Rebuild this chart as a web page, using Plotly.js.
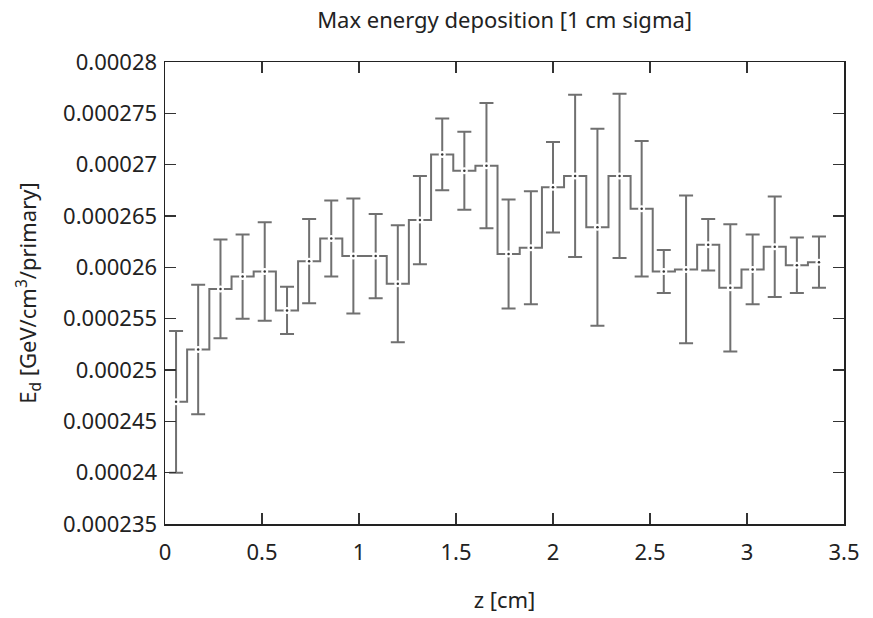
<!DOCTYPE html>
<html>
<head>
<meta charset="utf-8">
<script src="https://cdn.plot.ly/plotly-3.0.1.min.js"></script>
<style>html,body{margin:0;padding:0;background:#fff;}#chart{width:873px;height:618px;}</style>
</head>
<body>
<div id="chart"></div>
<script>
// bin centres (cm)
const zCenters = [0.057, 0.171, 0.286, 0.400, 0.514, 0.629, 0.743, 0.857, 0.971, 1.086,
                  1.200, 1.314, 1.429, 1.543, 1.657, 1.771, 1.886, 2.000, 2.114, 2.229,
                  2.343, 2.457, 2.571, 2.686, 2.800, 2.914, 3.029, 3.143, 3.257, 3.371];
// energy deposition values (GeV/cm^3/primary)
const edValues = [0.0002469, 0.0002520, 0.0002579, 0.0002591, 0.0002596, 0.0002558, 0.0002606, 0.0002628, 0.0002611, 0.0002611,
                  0.0002584, 0.0002646, 0.0002710, 0.0002694, 0.0002699, 0.0002613, 0.0002619, 0.0002678, 0.0002689, 0.0002639,
                  0.0002689, 0.0002657, 0.0002596, 0.0002598, 0.0002622, 0.0002580, 0.0002598, 0.0002620, 0.0002602, 0.0002605];
// symmetric errors
const edErrors = [0.0000069, 0.0000063, 0.0000048, 0.0000041, 0.0000048, 0.0000023, 0.0000041, 0.0000037, 0.0000056, 0.0000041,
                  0.0000057, 0.0000043, 0.0000035, 0.0000038, 0.0000061, 0.0000053, 0.0000055, 0.0000044, 0.0000079, 0.0000096,
                  0.0000080, 0.0000066, 0.0000021, 0.0000072, 0.0000025, 0.0000062, 0.0000034, 0.0000049, 0.0000027, 0.0000025];
const yTickVals = [0.000235, 0.00024, 0.000245, 0.00025, 0.000255, 0.00026, 0.000265, 0.00027, 0.000275, 0.00028];
const yTickText = ["0.000235", "0.00024", "0.000245", "0.00025", "0.000255", "0.00026", "0.000265", "0.00027", "0.000275", "0.00028"];
const xTickVals = [0, 0.5, 1, 1.5, 2, 2.5, 3, 3.5];
const xTickText = ["0", "0.5", "1", "1.5", "2", "2.5", "3", "3.5"];

const lineCol = '#707070';
const font = 'Noto Sans, Open Sans, sans-serif';
const fs = 22;

const traces = [
  {
    x: zCenters, y: edValues, type: 'scatter', mode: 'lines',
    line: {shape: 'hvh', color: lineCol, width: 2},
    error_y: {type: 'data', array: edErrors, visible: true, color: lineCol, thickness: 2, width: 7},
    hoverinfo: 'skip', showlegend: false
  },
  {
    x: zCenters, y: edValues, type: 'scatter', mode: 'markers',
    marker: {symbol: 'circle', size: 7, color: '#ffffff', line: {width: 0}},
    hoverinfo: 'skip', showlegend: false
  },
  {
    x: zCenters, y: edValues, type: 'scatter', mode: 'markers',
    marker: {symbol: 'circle', size: 2.5, color: '#333333', line: {width: 0}},
    showlegend: false
  }
];

const layout = {
  width: 873, height: 618,
  paper_bgcolor: '#fff', plot_bgcolor: '#fff',
  margin: {l: 165, r: 29, t: 62, b: 94, pad: 0},
  font: {family: font, size: fs, color: '#222'},
  title: {text: 'Max energy deposition [1 cm sigma]', x: 0.578, xanchor: 'center', y: 0.967, yanchor: 'middle',
          font: {family: font, size: fs, color: '#222'}},
  xaxis: {
    range: [0, 3.5], tickmode: 'array', tickvals: xTickVals, ticktext: xTickText,
    ticks: 'inside', ticklen: 11, tickwidth: 1.5, tickcolor: '#333',
    showline: true, linecolor: '#222', linewidth: 1.5, mirror: 'ticks',
    showgrid: false, zeroline: false, ticklabelstandoff: 8,
    tickfont: {family: font, size: fs, color: '#222'},
    title: {text: 'z [cm]', standoff: 27, font: {family: font, size: fs, color: '#222'}}
  },
  yaxis: {
    range: [0.000235, 0.00028], tickmode: 'array', tickvals: yTickVals, ticktext: yTickText,
    ticks: 'inside', ticklen: 11, tickwidth: 1.5, tickcolor: '#333',
    showline: true, linecolor: '#222', linewidth: 1.5, mirror: 'ticks',
    showgrid: false, zeroline: false, ticklabelstandoff: 2,
    tickfont: {family: font, size: fs, color: '#222'},
    title: {text: 'E<sub>d</sub> [GeV/cm<sup>3</sup>/primary]', standoff: 20, font: {family: font, size: fs, color: '#222'}}
  }
};

Plotly.newPlot('chart', traces, layout, {displayModeBar: false, staticPlot: true});
</script>
</body>
</html>
